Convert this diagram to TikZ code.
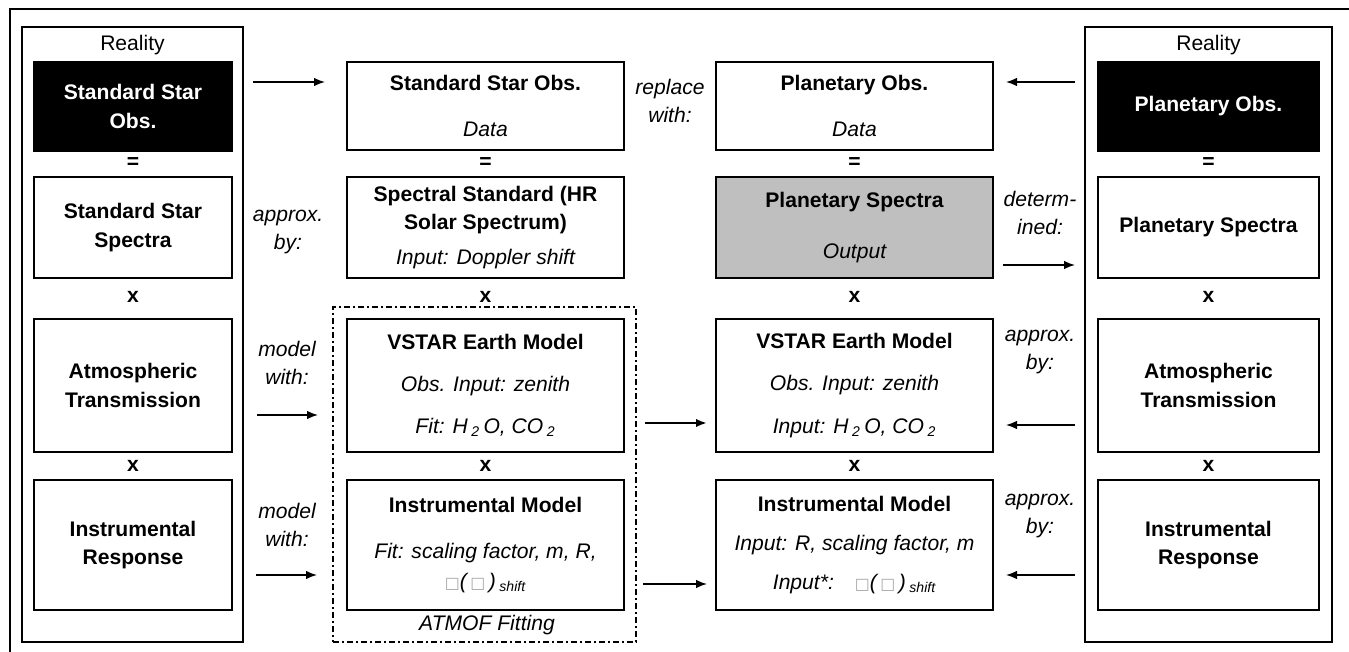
\documentclass[tikz,border=0pt]{standalone}
\usepackage{fontspec}
\setmainfont{Liberation Sans}
\newfontfamily\symfont{DejaVu Sans}
\usetikzlibrary{positioning,arrows.meta}

\newcommand{\datatext}[1]{{\mdseries\itshape #1}}
\newcommand{\tofu}{\textcolor{black!35}{{\symfont\small □}}}

\begin{document}
\begin{tikzpicture}[x=0.2mm, y=-0.2mm
% Box styles
		, realbox/.style={rectangle
							    , draw=black, line width=1pt
							    , minimum height=123mm}
		, box/.style={rectangle
							    , draw=black, line width=1.5pt
							    , align=center
							    , inner sep=0pt
							    , font=\fontsize{12}{16}\selectfont\bfseries}
		, cbox/.style={box
							    , minimum width=55.4mm}
		, obsbox/.style={rectangle
							    , fill=black
							    , text=white
							    , align=center
							    , minimum height=18.2mm
							    , font=\fontsize{12}{16}\selectfont\bfseries}
		, atmof/.style={rectangle
							    , draw=black, line width=0.9pt
							    , dash pattern=on 1.2mm off 0.6mm on 0.4mm off 0.6mm}
% Text styles
		, lbl/.style={align=center
							    , font=\fontsize{12}{16}\selectfont\itshape}
		, plain/.style={font=\fontsize{12}{16}\selectfont}
		, sep/.style={font=\fontsize{12}{16}\selectfont\bfseries}
		, arr/.style={-{Latex[length=2.2mm, width=1.7mm]}, line width=0.8pt}
	]
	\useasboundingbox (0,0) rectangle (1349,652);
	\draw[line width=1.2pt] (10,9) rectangle (1353,665);

%% Left column (reality)
	\node[realbox, minimum width=44.2mm] (lreal) at (132.5,334.5) {};
	\node[plain] (lrealtxt) at (132.5,45) {Reality};
	\node[obsbox, minimum width=40.1mm] (lobs) at (133,106.5) {Standard Star\\Obs.};
	\node[sep] (leq) at (133,163) {=};
	\node[box, minimum width=39.6mm, minimum height=20.2mm] (lspec) at (133,227.5) {Standard Star\\Spectra};
	\node[sep] (lx1) at (133,297) {x};
	\node[box, minimum width=39.6mm, minimum height=26.6mm] (latm) at (133,385.5) {Atmospheric\\Transmission};
	\node[sep] (lx2) at (133,466) {x};
	\node[box, minimum width=39.6mm, minimum height=26mm] (lins) at (133,545) {Instrumental\\Response};

%% ATMOF fitting group
	\node[atmof, minimum width=60.6mm, minimum height=67mm] (fitgrp) at (484.5,474.5) {};
	\node[lbl] (fitlbl) at (487,625) {ATMOF Fitting};

%% Standard star column
	\node[cbox, minimum height=17.6mm] (sso) at (485.5,106) {Standard Star Obs.\\[3.4mm]\datatext{Data}};
	\node[sep] (seq) at (485.5,163) {=};
	\node[cbox, minimum height=20.2mm] (sstd) at (485.5,227.5) {Spectral Standard (HR\\Solar Spectrum)\\[1.4mm]\datatext{Input: Doppler shift}};
	\node[sep] (sx1) at (485.5,297) {x};
	\node[cbox, minimum height=26.6mm] (svstar) at (485.5,385.5) {VSTAR Earth Model\\[2.8mm]\datatext{Obs. Input: zenith}\\[2.8mm]\datatext{Fit: H\,\textsubscript{2}\,O, CO\,\textsubscript{2}}};
	\node[sep] (sx2) at (485.5,466) {x};
	\node[cbox, minimum height=26mm] (sinst) at (485.5,545) {Instrumental Model\\[3.6mm]\datatext{Fit: scaling factor, m, R,}\\[0.2mm]\datatext{\tofu(\,\tofu\,)\,\textsubscript{shift}}};

%% Planetary column
	\node[cbox, minimum height=17.6mm] (pobs) at (854.5,106) {Planetary Obs.\\[3.4mm]\datatext{Data}};
	\node[sep] (peq) at (854.5,163) {=};
	\node[cbox, fill=black!25, minimum height=20.2mm] (pspec) at (854.5,227.5) {Planetary Spectra\\[4.6mm]\datatext{Output}};
	\node[sep] (px1) at (854.5,297) {x};
	\node[cbox, minimum height=26.6mm] (pvstar) at (854.5,385.5) {VSTAR Earth Model\\[2.8mm]\datatext{Obs. Input: zenith}\\[2.8mm]\datatext{Input: H\,\textsubscript{2}\,O, CO\,\textsubscript{2}}};
	\node[sep] (px2) at (854.5,466) {x};
	\node[cbox, minimum height=26mm] (pinst) at (854.5,545) {Instrumental Model\\[2.2mm]\datatext{Input: R, scaling factor, m}\\[2.2mm]\datatext{Input*:\quad\tofu(\,\tofu\,)\,\textsubscript{shift}}};

%% Right column (reality)
	\node[realbox, minimum width=49.4mm] (rreal) at (1208.5,334.5) {};
	\node[plain] (rrealtxt) at (1208.5,45) {Reality};
	\node[obsbox, minimum width=44.7mm] (robs) at (1208.5,106.5) {Planetary Obs.};
	\node[sep] (req) at (1208.5,163) {=};
	\node[box, minimum width=44.2mm, minimum height=20.2mm] (rspec) at (1208.5,227.5) {Planetary Spectra};
	\node[sep] (rx1) at (1208.5,297) {x};
	\node[box, minimum width=44.2mm, minimum height=26.6mm] (ratm) at (1208.5,385.5) {Atmospheric\\Transmission};
	\node[sep] (rx2) at (1208.5,466) {x};
	\node[box, minimum width=44.2mm, minimum height=26mm] (rins) at (1208.5,545) {Instrumental\\Response};

%% Labels between columns
	\node[lbl] (replace) at (670,101) {replace\\with:};
	\node[lbl] (lapprox) at (288,232) {approx.\\by:};
	\node[lbl] (determ) at (1040,213) {determ-\\ined:};
	\node[lbl] (lmodel1) at (287,363) {model\\with:};
	\node[lbl] (rapprox1) at (1040,352) {approx.\\by:};
	\node[lbl] (lmodel2) at (287,525) {model\\with:};
	\node[lbl] (rapprox2) at (1040,516) {approx.\\by:};

%% Arrow ends
	\coordinate (a1s) at (253,82);   \coordinate (a1e) at (325,82);
	\coordinate (b1s) at (1075,82);  \coordinate (b1e) at (1006,82);
	\coordinate (b2s) at (1003,265); \coordinate (b2e) at (1075,265);
	\coordinate (a3s) at (257,415);  \coordinate (a3e) at (318,415);
	\coordinate (m3s) at (645,423);  \coordinate (m3e) at (707,423);
	\coordinate (b3s) at (1075,425); \coordinate (b3e) at (1006,425);
	\coordinate (a4s) at (256,575);  \coordinate (a4e) at (317,575);
	\coordinate (m4s) at (643,584);  \coordinate (m4e) at (707,584);
	\coordinate (b4s) at (1075,575); \coordinate (b4e) at (1006,575);

	\draw[arr] (a1s) -- (a1e);
	\draw[arr] (b1s) -- (b1e);
	\draw[arr] (b2s) -- (b2e);
	\draw[arr] (a3s) -- (a3e);
	\draw[arr, line width=1.5pt] (m3s) -- (m3e);
	\draw[arr] (b3s) -- (b3e);
	\draw[arr] (a4s) -- (a4e);
	\draw[arr] (m4s) -- (m4e);
	\draw[arr] (b4s) -- (b4e);
\end{tikzpicture}
\end{document}
